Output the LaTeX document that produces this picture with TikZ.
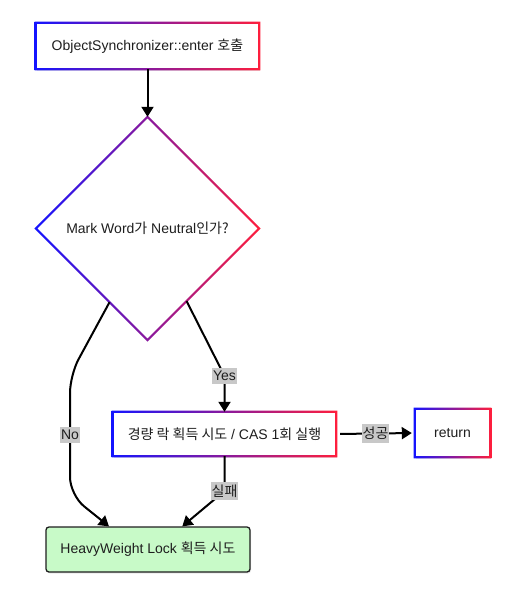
\documentclass[tikz,border=0pt]{standalone}
\usepackage{fontspec}
\setmainfont{Liberation Sans}
\newfontfamily\krfont{Noto Sans CJK KR}
\newcommand\kr[1]{{\krfont #1}}
\usetikzlibrary{shapes.geometric,arrows.meta,shadows,calc}
\definecolor{gblue}{RGB}{20,20,255}
\definecolor{gred}{RGB}{255,30,60}
\definecolor{txt}{RGB}{30,30,30}
\definecolor{lblgray}{RGB}{200,200,200}
\definecolor{hvgreen}{RGB}{200,250,200}
\definecolor{hvborder}{RGB}{30,30,30}
\newcommand\gring[1]{\shade[left color=gblue,right color=gred,even odd rule]
  ($(#1.north west)+(-1.1,-1.1)$) rectangle ($(#1.south east)+(1.1,1.1)$)
  ($(#1.north west)+(1.1,1.1)$) rectangle ($(#1.south east)+(-1.1,-1.1)$);}
\begin{document}
\begin{tikzpicture}[x=1pt,y=-1pt,
  base/.style={font=\fontsize{14}{17}\selectfont, text=txt},
  gbox/.style={base, rectangle, fill=white, inner sep=0pt,
    drop shadow={opacity=0.18,shadow xshift=1pt,shadow yshift=-1.5pt}},
  lbl/.style={fill=lblgray, text=txt, inner xsep=1pt, inner ysep=3pt, font=\fontsize{14}{17}\selectfont},
  conn/.style={draw=black, line width=2pt, -{Triangle[width=12pt,length=10pt]}},
]
\useasboundingbox (0,0) rectangle (516,600);
% nodes
\node[gbox, minimum width=223pt, minimum height=46pt] (start) at (147.5,46) {ObjectSynchronizer::enter \kr{호출}};
\node[diamond, base, minimum width=223pt, minimum height=223pt, inner sep=0pt, fill=white] (dec) at (147.5,228.5) {Mark Word\kr{가} Neutral\kr{인가?}};
\node[gbox, minimum width=223pt, minimum height=44pt] (cas) at (224.5,434) {\kr{경량 락 획득 시도} / CAS 1\kr{회 실행}};
\node[gbox, minimum width=75pt, minimum height=48pt] (ret) at (452.5,433) {return};
\node[base, draw=hvborder, fill=hvgreen, rounded corners=3pt, line width=1.3pt,
  minimum width=204pt, minimum height=45pt,
  drop shadow={opacity=0.18,shadow xshift=1pt,shadow yshift=-1.5pt}] (hv) at (148,549.5) {HeavyWeight Lock \kr{획득 시도}};
% gradient borders
\gring{start}
\gring{cas}
\gring{ret}
\shade[left color=gblue,right color=gred,even odd rule]
  ($(dec.north)+(0,-1.5)$) -- ($(dec.east)+(1.5,0)$) -- ($(dec.south)+(0,1.5)$) -- ($(dec.west)+(-1.5,0)$) -- cycle
  ($(dec.north)+(0,1.5)$) -- ($(dec.east)+(-1.5,0)$) -- ($(dec.south)+(0,-1.5)$) -- ($(dec.west)+(1.5,0)$) -- cycle;
% connectors
\draw[conn] (start.south) -- (dec.north);
\coordinate (noA) at (70,375);
\coordinate (noB) at (70,495);
\draw[conn, rounded corners=18pt] ($(dec.west)!0.66!(dec.south)$) -- (noA) -- (noB) -- ($(hv.north west)!0.31!(hv.north east)$);
\node[lbl] (nolbl) at (70,435) {No};
\coordinate (yesA) at (224.5,376);
\draw[conn] ($(dec.south)!0.35!(dec.east)$) -- (yesA) -- (cas.north);
\node[lbl] (yeslbl) at (yesA) {Yes};
\draw[conn, shorten <=4pt, shorten >=3pt] (cas.east) -- (ret.west);
\node[lbl] (oklbl) at ($(cas.east)!0.5!(ret.west)$) {\kr{성공}};
\coordinate (failA) at (224.5,491);
\draw[conn] (cas.south) -- (failA) -- ($(hv.north west)!0.667!(hv.north east)$);
\node[lbl] (faillbl) at (failA) {\kr{실패}};
\end{tikzpicture}
\end{document}
